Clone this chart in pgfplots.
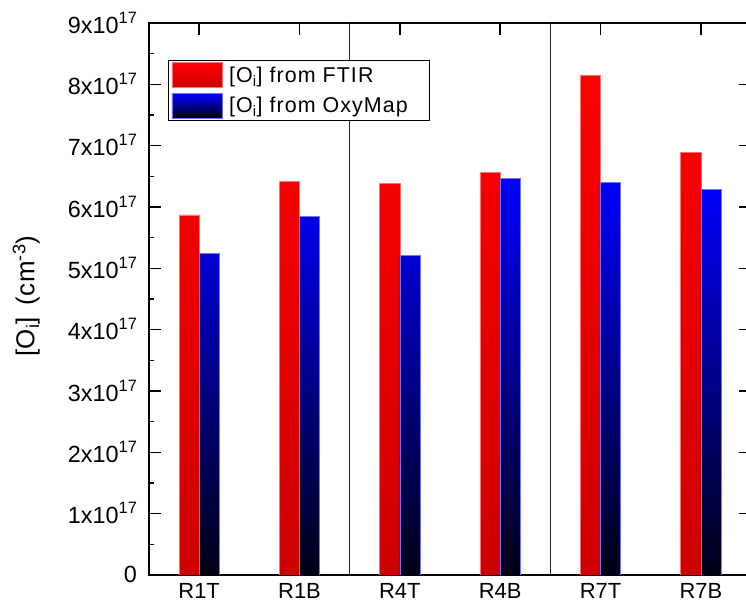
\documentclass[border=0pt]{standalone}
\usepackage{fontspec}
\setmainfont{Liberation Sans}
\newfontfamily\lsfam[LetterSpace=5]{Liberation Sans}
\newfontfamily\ylfam[LetterSpace=2]{Liberation Sans}
\usepackage{pgfplots}
\pgfplotsset{compat=1.18}
\newcommand\tsup[1]{\raisebox{10bp}{\fontsize{16.5}{19}\selectfont #1}}
\newcommand\legendfont{\lsfam\fontsize{21.5}{25}\selectfont}
\newcommand\ylabelfont{\ylfam\fontsize{26}{31}\selectfont}
\begin{document}
\begin{tikzpicture}
\begin{axis}[
  at={(149bp,34bp)}, anchor=south west,
  scale only axis, width=602bp, height=552bp,
  xmin=-0.5, xmax=5.5, ymin=0, ymax=9,
  ybar, bar width=0.2,
  xtick={0,...,5}, xticklabels={R1T,R1B,R4T,R4B,R7T,R7B},
  ytick={0,...,9},
  yticklabels={0,1x10\tsup{17},2x10\tsup{17},3x10\tsup{17},4x10\tsup{17},5x10\tsup{17},6x10\tsup{17},7x10\tsup{17},8x10\tsup{17},9x10\tsup{17}},
  minor y tick num=1,
  tick align=inside,
  major tick length=12bp, minor tick length=5bp,
  axis line style={line width=1.7bp, black},
  every tick/.style={line width=1.5bp, black},
  xticklabel style={font=\fontsize{22}{26}\selectfont, yshift=-4.5bp},
  yticklabel style={font=\fontsize{23.5}{28}\selectfont, xshift=-8.5bp, yshift=0.5bp},
  extra x ticks={1.5,3.5}, extra x tick labels={},
  extra x tick style={grid=major, major grid style={black!85, line width=1.3bp}, major tick length=0pt},
  ylabel={{}[O\textsubscript{i}]\hspace{0.15em} (cm\textsuperscript{-3})},
  ylabel style={font=\ylabelfont, at={(axis description cs:-0.181,0.505)}, anchor=south, inner sep=0pt},
  legend style={at={(axis description cs:0.0316,0.933)}, anchor=north west, draw=black, line width=1bp, fill=white, inner xsep=3bp, inner ysep=2bp, row sep=5bp, column sep=5bp, font=\legendfont},
  legend cell align=left,
]
\addlegendimage{legend image code/.code={\shade[top color=red, bottom color=red!80!black, draw=red!55, line width=0.6bp] (0bp,-12.5bp) rectangle (50bp,12.5bp);}}
\addlegendentry{{}[O\textsubscript{i}] from FTIR}
\addlegendimage{legend image code/.code={\shade[top color=blue, bottom color=black!92!blue, draw=blue!55, line width=0.6bp] (0bp,-12.5bp) rectangle (50bp,12.5bp);}}
\addlegendentry{{}[O\textsubscript{i}] from OxyMap\hspace*{17bp}}
\addplot[forget plot, bar shift=-0.1, draw=red!55, line width=0.6bp, top color=red, bottom color=red!80!black]
  coordinates {(0,5.87) (1,6.42) (2,6.39) (3,6.57) (4,8.14) (5,6.89)};
\addplot[forget plot, bar shift=0.1, draw=blue!55, line width=0.6bp, top color=blue, bottom color=black!92!blue]
  coordinates {(0,5.245) (1,5.85) (2,5.21) (3,6.46) (4,6.40) (5,6.29)};
\end{axis}
\pgfresetboundingbox
\path[use as bounding box] (0,0) rectangle (746bp,609bp);
\end{tikzpicture}
\end{document}
